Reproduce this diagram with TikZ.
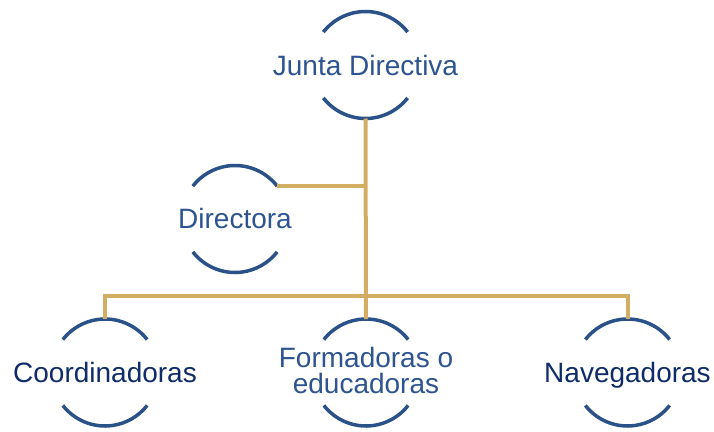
\documentclass[tikz,border=0pt]{standalone}
\usepackage{fontspec}
\setmainfont{Liberation Sans}
\definecolor{arcblue}{HTML}{2A5288}
\definecolor{txtblue}{HTML}{2D5490}
\definecolor{txtnavy}{HTML}{0F2B68}
\definecolor{gold}{HTML}{D2AD62}
\begin{document}
\begin{tikzpicture}[x=1pt,y=-1pt,
  ring/.style={circle,draw=none,minimum size=107pt,inner sep=0pt,outer sep=0pt},
  arcline/.style={draw=arcblue,line width=3.5pt},
  lbl/.style={inner sep=0pt,font=\fontsize{28}{26}\selectfont,align=center},
  link/.style={draw=gold,line width=4pt}]
\useasboundingbox (0,0) rectangle (714,431);
\def\R{53.5}
% circles
\node[ring] (jd) at (365.5,65) {};
\node[ring] (dir) at (235,219) {};
\node[ring] (co) at (105,372.5) {};
\node[ring] (fe) at (366,372.5) {};
\node[ring] (nv) at (627.5,372.5) {};
\foreach \n in {jd,dir,co,fe,nv}{
  \draw[arcline] (\n.38) arc[start angle=38,end angle=142,radius=\R pt];
  \draw[arcline] (\n.218) arc[start angle=218,end angle=322,radius=\R pt];
}
% labels
\node[lbl,text=txtblue,anchor=base] (jdt) at (365.5,75) {Junta Directiva};
\node[lbl,text=txtblue,anchor=base] (dirt) at (235,228) {Directora};
\node[lbl,text=txtnavy,anchor=base] (cot) at (105,382) {Coordinadoras};
\node[lbl,text=txtblue,anchor=base] (fet1) at (366,367) {Formadoras o};
\node[lbl,text=txtblue,anchor=base] (fet2) at (366,393) {educadoras};
\node[lbl,text=txtnavy,anchor=base] (nvt) at (627.5,382) {Navegadoras};
% connectors
\coordinate (bus) at (366,296);
\draw[link] (jd.south) -- (fe.north);
\draw[link] (dir.38) -- (dir.38 -| jd.south);
\draw[link] (co.north) |- (bus) -| (nv.north);
\end{tikzpicture}
\end{document}
